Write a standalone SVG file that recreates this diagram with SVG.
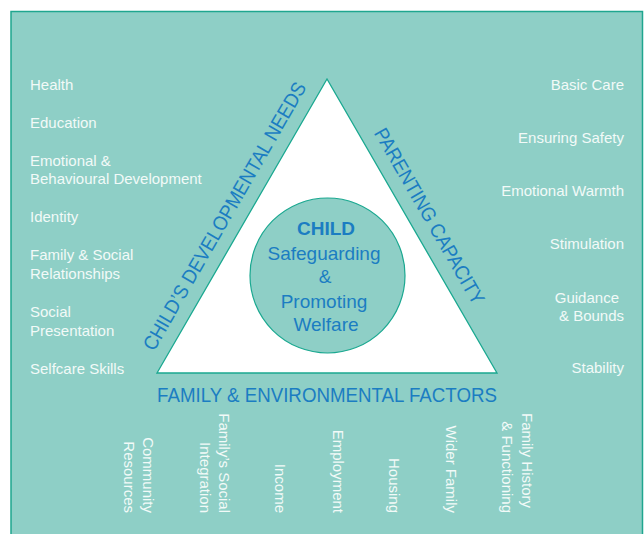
<svg xmlns="http://www.w3.org/2000/svg" width="644" height="534" viewBox="0 0 644 534">
<style>
.lbl{font-family:"Liberation Sans",Arial,sans-serif;font-size:15px;fill:#f2faf8}
.r{text-anchor:end}
.e{text-anchor:end}
.hd{font-family:"Liberation Sans",Arial,sans-serif;font-size:20px;fill:#1b7dc2;text-anchor:middle}
.ct{font-family:"Liberation Sans",Arial,sans-serif;font-size:19px;fill:#1b7dc2;text-anchor:middle}
</style>
<rect x="11" y="11.5" width="631.5" height="540" fill="#8ecfc6" stroke="#1fa68f" stroke-width="1.5"/>
<g id="triangle">
<polygon points="327,79 157,373 497,373" fill="#ffffff" stroke="#1aa890" stroke-width="1.3"/>
</g>
<g id="child">
<circle cx="327.5" cy="275.5" r="77.5" fill="#8ecfc6" stroke="#1aa890" stroke-width="1.2"/>
<text class="ct" x="326" y="235" font-weight="bold" fill="#1570c0">CHILD</text>
<text class="ct" x="324" y="260" textLength="113" lengthAdjust="spacingAndGlyphs">Safeguarding</text>
<text class="ct" x="325" y="283">&amp;</text>
<text class="ct" x="324" y="308">Promoting</text>
<text class="ct" x="326" y="331">Welfare</text>
</g>
<g id="dev-needs">
<text class="hd" transform="translate(230.5,219.5) rotate(-60)" x="0" y="0" textLength="306" lengthAdjust="spacingAndGlyphs">CHILD’S DEVELOPMENTAL NEEDS</text>
<text class="lbl" x="30" y="90">Health</text>
<text class="lbl" x="30" y="128">Education</text>
<text class="lbl" x="30" y="166">Emotional &amp;</text>
<text class="lbl" x="30" y="184">Behavioural Development</text>
<text class="lbl" x="30" y="222">Identity</text>
<text class="lbl" x="30" y="260">Family &amp; Social</text>
<text class="lbl" x="30" y="279">Relationships</text>
<text class="lbl" x="30" y="317">Social</text>
<text class="lbl" x="30" y="336">Presentation</text>
<text class="lbl" x="30" y="374">Selfcare Skills</text>
</g>
<g id="parenting">
<text class="hd" transform="translate(423.5,219.5) rotate(60)" x="0" y="0" textLength="200" lengthAdjust="spacingAndGlyphs">PARENTING CAPACITY</text>
<text class="lbl r" x="624" y="90">Basic Care</text>
<text class="lbl r" x="624" y="143">Ensuring Safety</text>
<text class="lbl r" x="624" y="196">Emotional Warmth</text>
<text class="lbl r" x="624" y="249">Stimulation</text>
<text class="lbl r" x="619" y="303">Guidance</text>
<text class="lbl r" x="624" y="321">&amp; Bounds</text>
<text class="lbl r" x="624" y="373">Stability</text>
</g>
<g id="family">
<text class="hd" x="327" y="402" textLength="340" lengthAdjust="spacingAndGlyphs">FAMILY &amp; ENVIRONMENTAL FACTORS</text>
<text class="lbl e" transform="translate(143,513) rotate(90)">Community</text>
<text class="lbl e" transform="translate(124,513) rotate(90)">Resources</text>
<text class="lbl e" transform="translate(219,513) rotate(90)">Family’s Social</text>
<text class="lbl e" transform="translate(199.5,513) rotate(90)">Integration</text>
<text class="lbl e" transform="translate(275,513) rotate(90)">Income</text>
<text class="lbl e" transform="translate(332.5,513) rotate(90)">Employment</text>
<text class="lbl e" transform="translate(389,513) rotate(90)">Housing</text>
<text class="lbl e" transform="translate(446,513) rotate(90)">Wider Family</text>
<text class="lbl e" transform="translate(521.5,508) rotate(90)">Family History</text>
<text class="lbl e" transform="translate(501.5,513) rotate(90)">&amp; Functioning</text>
</g>
<g id="connectors"></g>
</svg>
